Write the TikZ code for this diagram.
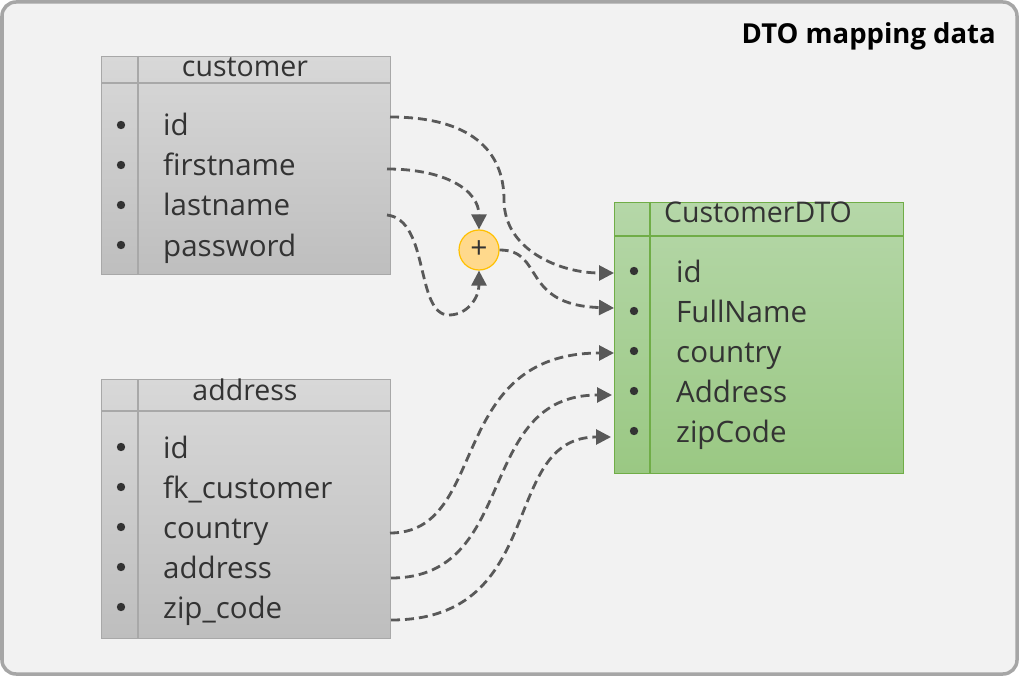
\documentclass[tikz,border=0pt]{standalone}
\usepackage{fontspec}
\setmainfont{Open Sans}
\usetikzlibrary{arrows.meta}
\definecolor{bgc}{HTML}{F2F2F2}
\definecolor{framec}{HTML}{A6A6A6}
\definecolor{txtc}{HTML}{333333}
\definecolor{tbltop}{HTML}{D8D8D8}
\definecolor{tblbot}{HTML}{BEBEBE}
\definecolor{tblline}{HTML}{A8A8A8}
\definecolor{grtop}{HTML}{B5D7A8}
\definecolor{grbot}{HTML}{9AC883}
\definecolor{grline}{HTML}{70AD47}
\definecolor{plusfill}{HTML}{FFD98C}
\definecolor{plusline}{HTML}{FFC000}
\definecolor{conc}{HTML}{595959}
\begin{document}
\begin{tikzpicture}[x=1pt,y=-1pt,
  frame/.style={draw=framec,line width=3.5pt,fill=bgc,rounded corners=14pt},
  tbl/.style={draw=tblline,line width=1.2pt,top color=tbltop,bottom color=tblbot,anchor=north west,inner sep=0pt},
  gtbl/.style={draw=grline,line width=1.2pt,top color=grtop,bottom color=grbot,anchor=north west,inner sep=0pt},
  sep/.style={draw=tblline,line width=1.2pt},
  gsep/.style={draw=grline,line width=1.2pt},
  field/.style={anchor=base west,inner sep=0pt,text=txtc,font=\fontsize{29.5}{33}\selectfont},
  head/.style={anchor=base,inner sep=0pt,text=txtc,font=\fontsize{28.5}{32}\selectfont},
  bul/.style={fill=txtc},
  conn/.style={draw=conc,line width=2.8pt,dash pattern=on 9pt off 5pt,-{Triangle[length=15pt,width=15pt]}},
  conn2/.style={draw=conc,line width=2.8pt,dash pattern=on 9pt off 5pt}
]
\useasboundingbox (0,0) rectangle (1019,676);
\draw[frame] (2,2) rectangle (1017,674);
\node[anchor=base east,inner sep=0pt,font=\bfseries\fontsize{27.5}{32}\selectfont,text=black] (title) at (996,44) {DTO mapping data};

% customer table
\node[tbl,minimum width=289pt,minimum height=218pt] (cust) at (101,56) {};
\draw[sep] (101,83) -- (390,83);
\draw[sep] (138,56) -- (138,274);
\node[head] (custh) at (245,77) {customer};
\foreach \t/\b/\n in {id/136/cid,firstname/176/cfn,lastname/216/cln,password/256/cpw}{
  \fill[bul] (121,\b-11) circle (4.2);
  \node[field] (\n) at (163,\b) {\t};
}

% address table
\node[tbl,minimum width=289pt,minimum height=259pt] (addr) at (101,379) {};
\draw[sep] (101,411) -- (390,411);
\draw[sep] (138,379) -- (138,638);
\node[head] (addrh) at (245,400) {address};
\foreach \t/\b/\n in {id/458/aid,fk\_customer/498/afk,country/538/aco,address/578/aad,zip\_code/618/azc}{
  \fill[bul] (121,\b-11) circle (4.2);
  \node[field] (\n) at (163,\b) {\t};
}

% DTO table
\node[gtbl,minimum width=289pt,minimum height=271pt] (dto) at (614,202) {};
\draw[gsep] (614,236) -- (903,236);
\draw[gsep] (650,202) -- (650,473);
\node[head] (dtoh) at (758,223) {CustomerDTO};
\foreach \t/\b/\n in {id/282/did,FullName/322/dfn,country/362/dco,Address/402/dad,zipCode/442/dzc}{
  \fill[bul] (634,\b-11) circle (4.2);
  \node[field] (\n) at (676,\b) {\t};
}

% plus
\node[circle,draw=plusline,line width=1.2pt,fill=plusfill,minimum size=40pt,inner sep=0pt,text=txtc,font=\fontsize{30}{32}\selectfont] (plus) at (479,250) {\raisebox{1.5pt}{+}};

% connector end points
\coordinate (s1) at (390,117);
\coordinate (m1) at (504,200);
\coordinate (s2) at (387,169);
\coordinate (s3) at (387,215);
\coordinate (low) at (449,315);
\coordinate (s5) at (390,533);
\coordinate (s6) at (391,578);
\coordinate (s7) at (391,620);
\coordinate (e1) at (614,273);
\coordinate (e2) at (614,308);
\coordinate (e3) at (614,353);
\coordinate (e4) at (612,395);
\coordinate (e5) at (611,437);

\draw[conn] (s1) .. controls (470,117) and (504,150) .. (m1) .. controls (504,250) and (560,273) .. (e1);
\draw[conn] (s2) .. controls (445,169) and (479,190) .. (plus.north);
\draw[conn2] (s3) .. controls (430,220) and (415,315) .. (low);
\draw[conn] (low) .. controls (467,315) and (479,298) .. (plus.south);
\draw[conn] (plus.east) .. controls (545,250) and (520,305) .. (e2);
\draw[conn] (s5) .. controls (490,533) and (445,353) .. (e3);
\draw[conn] (s6) .. controls (520,578) and (474,395) .. (e4);
\draw[conn] (s7) .. controls (550,620) and (498,437) .. (e5);
\end{tikzpicture}
\end{document}
